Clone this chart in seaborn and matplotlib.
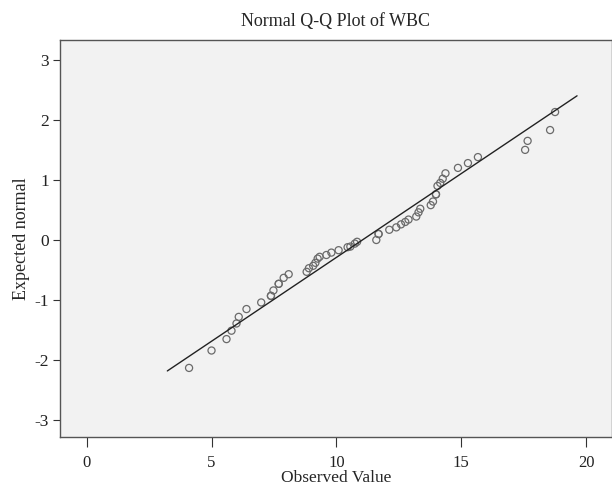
import matplotlib
matplotlib.use("Agg")
import matplotlib.pyplot as plt
import seaborn as sns
import pandas as pd

# ---------- data ----------
observed = [4.10, 5.00, 5.60, 5.80, 6.00, 6.09, 6.40, 6.99, 7.38, 7.38,
            7.48, 7.69, 7.69, 7.89, 8.09, 8.81, 8.90, 9.07, 9.16, 9.25,
            9.33, 9.60, 9.80, 10.09, 10.45, 10.56, 10.74, 10.83, 11.60, 11.69,
            11.69, 12.12, 12.40, 12.59, 12.76, 12.89, 13.20, 13.29, 13.36, 13.78,
            13.87, 13.99, 13.99, 14.05, 14.16, 14.26, 14.37, 14.87, 15.27, 15.67,
            17.56, 17.66, 18.56, 18.76]
expected = [-2.13, -1.84, -1.65, -1.51, -1.39, -1.28, -1.15, -1.04, -0.93, -0.93,
            -0.84, -0.73, -0.73, -0.63, -0.57, -0.53, -0.47, -0.43, -0.38, -0.31,
            -0.28, -0.25, -0.21, -0.17, -0.12, -0.11, -0.06, -0.03, 0.00, 0.10,
            0.10, 0.17, 0.21, 0.26, 0.30, 0.34, 0.39, 0.46, 0.52, 0.58,
            0.64, 0.76, 0.76, 0.90, 0.95, 1.02, 1.11, 1.20, 1.28, 1.38,
            1.50, 1.65, 1.83, 2.13]

# reference line endpoints
line_x = [3.23, 19.64]
line_y = [-2.18, 2.40]

x_ticks = [0, 5, 10, 15, 20]
y_ticks = [-3, -2, -1, 0, 1, 2, 3]

df = pd.DataFrame({"Observed": observed, "Expected": expected})
line_df = pd.DataFrame({"x": line_x, "y": line_y})

# ---------- style ----------
sns.set_style("ticks", {"axes.facecolor": "#f2f2f2", "axes.edgecolor": "#555555"})
plt.rcParams["font.family"] = ["Liberation Serif", "DejaVu Serif"]
plt.rcParams["axes.unicode_minus"] = False

fig = plt.figure(figsize=(6.12, 4.86), dpi=100)
ax = fig.add_axes([0.098, 0.1008, 0.902, 0.817])

sns.lineplot(data=line_df, x="x", y="y", color="#222222", linewidth=1.0, ax=ax)
sns.scatterplot(data=df, x="Observed", y="Expected", marker="o", s=26,
                facecolors="none", edgecolor="#6a6a6a", linewidth=0.9, ax=ax)

ax.set_xlim(-1.07, 21.04)
ax.set_ylim(-3.28, 3.33)
ax.set_xticks(x_ticks)
ax.set_yticks(y_ticks)
ax.tick_params(axis="both", labelsize=12.5, colors="#333333", labelcolor="#222222")
ax.tick_params(axis="x", length=7, pad=6, labelsize=12)
ax.tick_params(axis="y", length=5, pad=3)

ax.set_title("Normal Q-Q Plot of WBC", fontsize=13, pad=10)
ax.set_xlabel("Observed Value", fontsize=12.5, labelpad=-1)
ax.set_ylabel("Expected normal", fontsize=13, labelpad=3)

for s in ax.spines.values():
    s.set_linewidth(1.0)

fig.savefig("out.png", dpi=100)
plt.close(fig)
